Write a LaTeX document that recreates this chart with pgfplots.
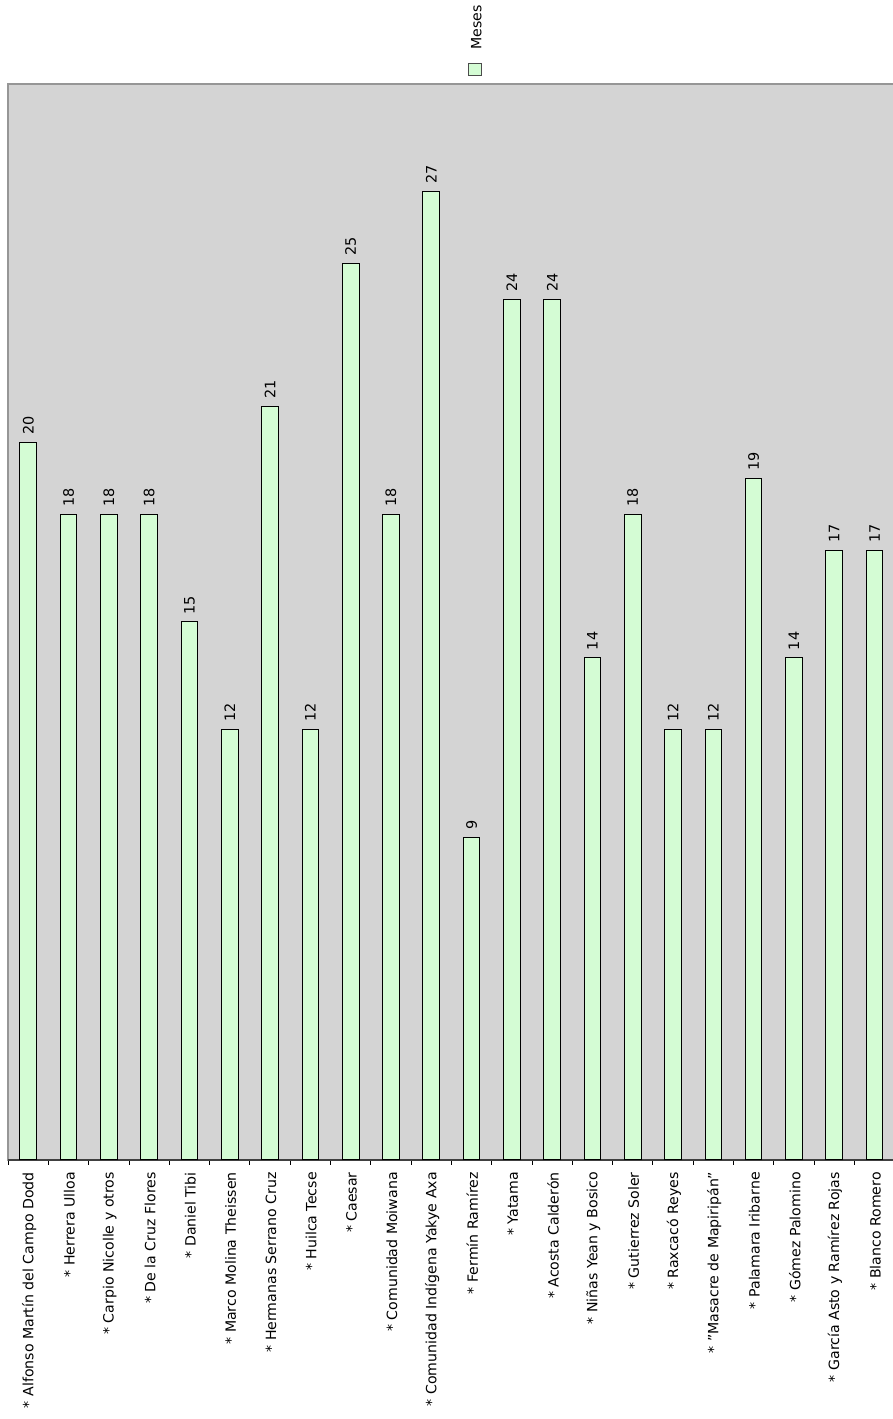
\documentclass[border=0pt]{standalone}
\usepackage{pgfplots}
\pgfplotsset{compat=1.18}
\usepackage{fontspec}
\setmainfont{DejaVu Sans}
\definecolor{bg}{RGB}{212,212,212}
\definecolor{barfill}{RGB}{212,252,212}
\definecolor{frame}{RGB}{150,150,150}
\begin{document}
\begin{tikzpicture}
\path[use as bounding box] (0,0) rectangle (669pt,1064.25pt);
\begin{axis}[
  at={(6.11pt,194.25pt)}, anchor=south west,
  scale only axis, width=664.9pt, height=807pt,
  xmin=-0.5, xmax=21.5, ymin=0, ymax=30,
  /pgf/number format/assume math mode=true,
  axis background/.style={fill=bg, draw=frame, line width=1.5pt},
  axis x line*=bottom, axis y line=none,
  x axis line style={black!75, line width=1pt},
  ytick=\empty,
  xtick={0,...,21},
  major x tick style={draw=none},
  major tick length=0pt,
  minor xtick={-0.5,0.5,...,21.5},
  minor tick length=3.75pt,
  tick align=outside,
  minor x tick style={black, line width=0.75pt},
  xticklabels={{* Alfonso Martín del Campo Dodd},{* Herrera Ulloa},{* Carpio Nicolle y otros},{* De la Cruz Flores},{* Daniel Tibi},{* Marco Molina Theissen},{* Hermanas Serrano Cruz},{* Huilca Tecse},{* Caesar},{* Comunidad Moiwana},{* Comunidad Indígena Yakye Axa},{* Fermín Ramírez},{* Yatama},{* Acosta Calderón},{* Niñas Yean y Bosico},{* Gutierrez Soler},{* Raxcacó Reyes},{* "Masacre de Mapiripán"},{* Palamara Iribarne},{* Gómez Palomino},{* García Asto y Ramírez Rojas},{* Blanco Romero}},
  xticklabel style={font=\fontsize{10.6pt}{12pt}\selectfont, yshift=-9pt, xshift=0.6pt, rotate=90, anchor=east, inner sep=0pt},
  ybar, bar width=12.5pt,
  nodes near coords,
  every node near coord/.append style={font=\fontsize{10.8pt}{12pt}\selectfont, rotate=90, anchor=west, inner xsep=5.5pt, inner ysep=0pt},
  legend cell align=left,
  legend style={at={(axis description cs:0.521,1)}, anchor=south west, yshift=25.5pt, draw=none, fill=none, font=\fontsize{10.6pt}{12pt}\selectfont, inner sep=0pt, outer sep=0pt, column sep=0pt, nodes={rotate=90, anchor=west, inner sep=0pt, outer sep=0pt}},
  legend image code/.code={\path (0pt,0pt); \draw[#1, overlay, draw=black!70, line width=0.75pt] (-1.5pt,-10.5pt) rectangle (8.25pt,-19.5pt);},
]
\addplot[fill=barfill, draw=black, line width=0.75pt] coordinates {
(0,20) (1,18) (2,18) (3,18) (4,15) (5,12) (6,21) (7,12) (8,25) (9,18) (10,27)
(11,9) (12,24) (13,24) (14,14) (15,18) (16,12) (17,12) (18,19) (19,14) (20,17) (21,17)};
\addlegendentry{Meses}
\end{axis}
\end{tikzpicture}
\end{document}
